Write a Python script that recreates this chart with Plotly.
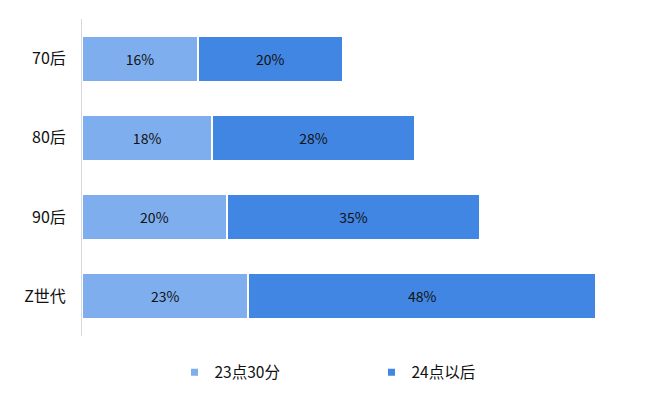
import plotly.graph_objects as go

categories = ["70后", "80后", "90后", "Z世代"]
series_names = ["23点30分", "24点以后"]
s1 = [0.16, 0.18, 0.20, 0.23]
s2 = [0.20, 0.28, 0.35, 0.48]
colors = ["#7EAEEE", "#4186E2"]

FONT = "Noto Sans CJK SC"

fig = go.Figure()
for name, vals, c in zip(series_names, [s1, s2], colors):
    fig.add_trace(go.Bar(
        y=categories, x=vals, orientation="h", name=name,
        marker=dict(color=c, line=dict(color="white", width=2)),
        text=[f"{v:.0%}" for v in vals], textposition="inside",
        insidetextanchor="middle", textangle=0,
        textfont=dict(color="#111111", size=14, family=FONT),
        showlegend=False, hoverinfo="skip",
    ))
    fig.add_trace(go.Scatter(
        x=[None], y=[None], mode="markers", name=name,
        marker=dict(symbol="square", size=7, color=c),
        showlegend=True,
    ))

fig.update_layout(
    width=672, height=406,
    barmode="stack", bargap=0.42,
    plot_bgcolor="white", paper_bgcolor="white",
    margin=dict(l=74, r=19, t=11, b=78, autoexpand=False),
    font=dict(family=FONT, size=14, color="#111111"),
    xaxis=dict(range=[0, 0.8], showgrid=False, zeroline=False,
               showticklabels=False, showline=False, automargin=False),
    yaxis=dict(categoryorder="array", categoryarray=categories,
               autorange="reversed", showline=True, linecolor="#D9D9D9",
               linewidth=1, showgrid=False, ticks="", ticklabelstandoff=12,
               automargin=False, tickfont=dict(size=16, family=FONT)),
    legend=dict(orientation="h", x=0.5, xanchor="center", y=-0.062,
                yanchor="top", entrywidth=152, itemsizing="trace",
                traceorder="normal", font=dict(size=15.5, family=FONT)),
)

fig.write_html("out.html")
